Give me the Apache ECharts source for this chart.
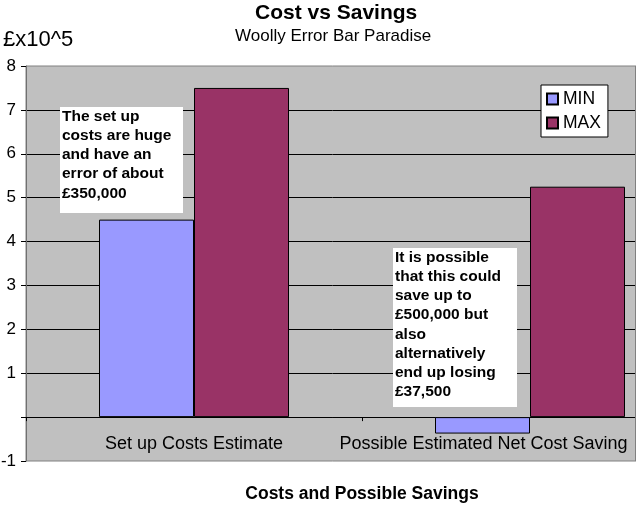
<!DOCTYPE html>
<html><head><meta charset="utf-8">
<script src="https://cdn.jsdelivr.net/npm/echarts@6/dist/echarts.min.js"></script>
<style>html,body{margin:0;padding:0;background:#fff}#c{width:638px;height:517px}</style>
</head><body><div id="c"></div>
<script>
const categories = ['Set up Costs Estimate', 'Possible Estimated Net Cost Saving'];
const seriesNames = ['MIN', 'MAX'];
const minValues = [4.5, -0.375];
const maxValues = [7.5, 5.25];
const yTicks = { min: -1, max: 8, step: 1 };
const note1 = ['The set up', 'costs are huge', 'and have an', 'error of about', '£350,000'];
const note2 = ['It is possible', 'that this could', 'save up to', '£500,000 but', 'also', 'alternatively', 'end up losing', '£37,500'];

const F = '"Liberation Sans", Arial, sans-serif';
const chart = echarts.init(document.getElementById('c'), null, { renderer: 'canvas' });

function note(x, y, w, h, lines) {
  return {
    type: 'group', z: 50,
    children: [
      { type: 'rect', z: 50, shape: { x: x, y: y, width: w, height: h }, style: { fill: '#fff' } },
      { type: 'text', z: 51, style: { x: x + 2, y: y, text: lines.join('\n'), fontFamily: F, fontSize: 15.5, fontWeight: 'bold', lineHeight: 19.2, fill: '#000', verticalAlign: 'top' } }
    ]
  };
}

const option = {
  backgroundColor: '#fff',
  animation: false,
  title: [
    { text: 'Cost vs Savings', left: 255, top: 3, padding: 0, textStyle: { fontFamily: F, fontSize: 21, fontWeight: 'bold', color: '#000' } },
    { text: 'Woolly Error Bar Paradise', left: 235, top: 28, padding: 0, textStyle: { fontFamily: F, fontSize: 17, fontWeight: 'normal', color: '#000' } },
    { text: '£x10^5', left: 3, top: 29, padding: 0, textStyle: { fontFamily: F, fontSize: 22, fontWeight: 'normal', color: '#000' } }
  ],
  legend: {
    data: seriesNames, orient: 'vertical', left: 541, top: 85,
    backgroundColor: '#fff', borderColor: '#000', borderWidth: 1,
    padding: [5, 7, 5, 5], itemGap: 6, itemWidth: 11, itemHeight: 11, icon: 'rect',
    textStyle: { fontFamily: F, fontSize: 17.5, color: '#000' }
  },
  grid: { left: 26, right: -60, top: 66, bottom: 56, outerBoundsMode: 'none', containLabel: false, show: true, backgroundColor: '#c0c0c0', borderColor: '#808080', borderWidth: 1 },
  xAxis: {
    type: 'category', data: categories,
    axisLine: { onZero: true, lineStyle: { color: '#000', width: 1 } },
    axisTick: { show: true, length: 4, lineStyle: { color: '#000' } },
    axisLabel: {
      interval: 0, margin: -26, fontFamily: F, fontSize: 18, color: '#000', hideOverlap: false,
      formatter: function (v, i) { return i === 1 ? '{s|' + v + '}' : v; },
      rich: { s: { padding: [0, 93, 0, 0], fontFamily: F, fontSize: 18, color: '#000' } }
    },
    name: 'Costs and Possible Savings', nameLocation: 'middle', nameGap: 24, nameMoveOverlap: false,
    nameTextStyle: { fontFamily: F, fontSize: 17.5, fontWeight: 'bold', color: '#000' }
  },
  yAxis: {
    type: 'value', min: yTicks.min, max: yTicks.max, interval: yTicks.step,
    axisLine: { show: true, lineStyle: { color: '#707070' } },
    axisTick: { show: true, length: 5, lineStyle: { color: '#000' } },
    axisLabel: { margin: 10, fontFamily: F, fontSize: 17, color: '#000', formatter: function (v) { return v === 0 ? '' : String(v); } },
    splitLine: { show: true, showMinLine: false, showMaxLine: false, lineStyle: { color: '#000', width: 1 } }
  },
  series: [
    { name: seriesNames[0], type: 'bar', data: minValues, barWidth: 95, barGap: '0%', itemStyle: { color: '#9999ff', borderColor: '#000', borderWidth: 1 } },
    { name: seriesNames[1], type: 'bar', data: maxValues, barWidth: 95, barGap: '0%', itemStyle: { color: '#993366', borderColor: '#000', borderWidth: 1 } }
  ],
  graphic: [
    { type: 'rect', z: 100, shape: { x: 636, y: 0, width: 10, height: 517 }, style: { fill: '#fff' } },
    { type: 'line', z: 101, shape: { x1: 635.5, y1: 66, x2: 635.5, y2: 461 }, style: { stroke: '#808080', lineWidth: 1 } },
    note(60, 107, 123, 106, note1),
    note(393, 248, 124, 159, note2)
  ]
};
chart.setOption(option);
</script>
</body></html>
